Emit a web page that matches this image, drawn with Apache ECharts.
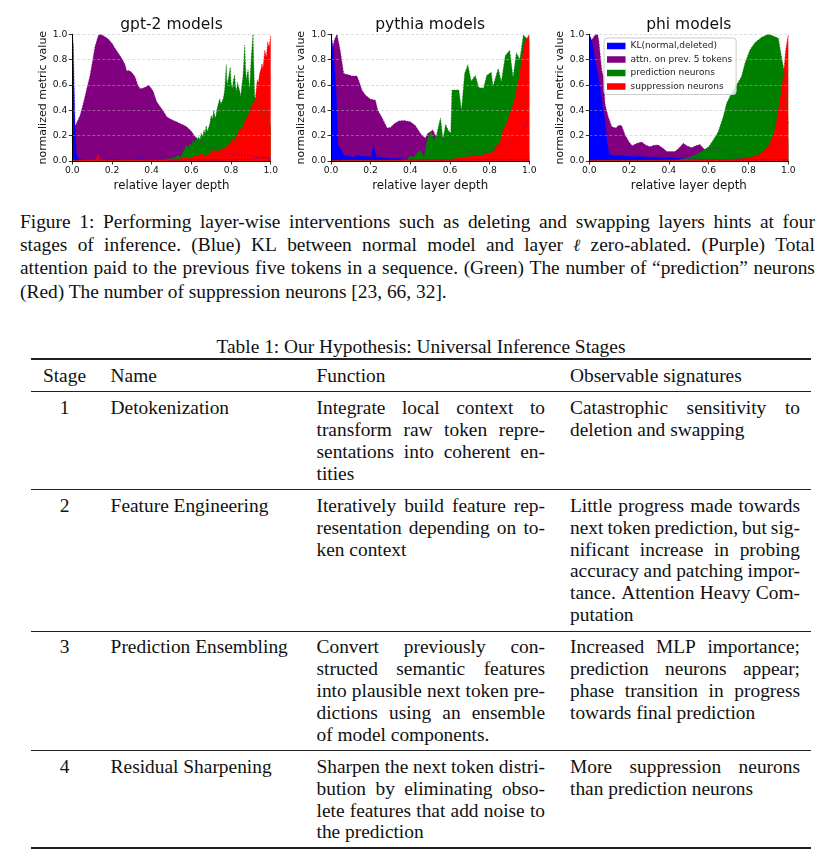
<!DOCTYPE html>
<html>
<head>
<meta charset="utf-8">
<script src="https://cdn.jsdelivr.net/npm/echarts@6/dist/echarts.min.js"></script>
<style>
  html, body { margin:0; padding:0; background:#fff; width:825px; height:864px; overflow:hidden; }
  #chart { position:absolute; left:0; top:0; width:825px; height:200px; }
  .ln { position:absolute; white-space:nowrap; font-family:'Liberation Serif','Times New Roman',serif; font-size:19.4px; color:#111; }
  .ell { font-family:'DejaVu Serif',serif; font-style:italic; font-size:17px; }
  .rule { position:absolute; background:#222; left:31px; width:780px; }
</style>
</head>
<body>
<div id="chart"></div>
<div id="txt"></div>
<script>
// ---------------- data ----------------
const modelTitles = ['gpt-2 models', 'pythia models', 'phi models'];
const seriesNames = ['KL(normal,deleted)', 'attn. on prev. 5 tokens', 'prediction neurons', 'suppression neurons'];
const xTickValues = [0, 0.2, 0.4, 0.6, 0.8, 1.0];

const gpt2KL = [[0,1.0],[0.005,0.92],[0.01,0.55],[0.015,0.22],[0.02,0.06],[0.03,0.02],[0.06,0.01],[0.1,0.012],[0.16,0.01],[0.2,0.015],[0.25,0.01],[0.3,0.012],[0.34,0.02],[0.36,0.008],[0.4,0.01],[0.45,0.015],[0.5,0.008],[0.6,0.01],[0.7,0.008],[0.8,0.01],[0.9,0.012],[0.95,0.03],[1.0,0.02]];
const gpt2Attn = [[0,0.26],[0.015,0.28],[0.022,0.30],[0.039,0.36],[0.05,0.42],[0.064,0.51],[0.076,0.59],[0.089,0.67],[0.1,0.77],[0.114,0.9],[0.131,0.99],[0.142,1.0],[0.152,0.995],[0.165,0.98],[0.18,0.965],[0.19,0.95],[0.2,0.93],[0.215,0.89],[0.232,0.85],[0.249,0.81],[0.266,0.76],[0.274,0.71],[0.285,0.715],[0.299,0.70],[0.316,0.665],[0.33,0.6],[0.341,0.57],[0.356,0.575],[0.37,0.585],[0.385,0.6],[0.392,0.59],[0.408,0.55],[0.425,0.47],[0.442,0.43],[0.46,0.39],[0.476,0.35],[0.49,0.335],[0.509,0.32],[0.525,0.31],[0.543,0.295],[0.56,0.285],[0.576,0.27],[0.59,0.25],[0.602,0.23],[0.615,0.2],[0.627,0.18],[0.645,0.16],[0.67,0.13],[0.7,0.1],[0.75,0.07],[0.8,0.05],[0.85,0.05],[0.9,0.04],[0.95,0.03],[1.0,0.02]];
const gpt2Pred = [[0,0.005],[0.1,0.01],[0.2,0.005],[0.3,0.012],[0.4,0.008],[0.45,0.01],[0.5,0.02],[0.52,0.03],[0.533,0.047],[0.545,0.03],[0.558,0.07],[0.567,0.06],[0.575,0.126],[0.584,0.10],[0.592,0.14],[0.6,0.12],[0.608,0.166],[0.616,0.14],[0.625,0.19],[0.63,0.16],[0.637,0.19],[0.644,0.17],[0.65,0.22],[0.657,0.19],[0.663,0.245],[0.669,0.22],[0.675,0.28],[0.681,0.23],[0.687,0.245],[0.694,0.3],[0.70,0.36],[0.706,0.33],[0.713,0.40],[0.718,0.36],[0.723,0.34],[0.728,0.40],[0.734,0.44],[0.743,0.49],[0.749,0.45],[0.755,0.47],[0.762,0.5],[0.768,0.56],[0.776,0.76],[0.78,0.6],[0.785,0.61],[0.79,0.68],[0.796,0.74],[0.8,0.62],[0.806,0.57],[0.812,0.64],[0.818,0.68],[0.822,0.6],[0.827,0.55],[0.833,0.62],[0.839,0.61],[0.844,0.55],[0.849,0.51],[0.855,0.6],[0.86,0.665],[0.865,0.8],[0.869,0.915],[0.873,0.75],[0.877,0.64],[0.881,0.68],[0.886,0.72],[0.89,0.63],[0.894,0.56],[0.898,0.7],[0.902,0.82],[0.907,0.92],[0.911,1.0],[0.915,0.75],[0.919,0.51],[0.928,0.48],[0.94,0.42],[0.95,0.38],[0.96,0.36],[0.97,0.4],[0.98,0.34],[0.99,0.3],[1.0,0.28]];
const gpt2Supp = [[0,0.005],[0.12,0.01],[0.13,0.05],[0.14,0.01],[0.3,0.005],[0.5,0.01],[0.55,0.02],[0.58,0.03],[0.6,0.02],[0.617,0.047],[0.63,0.035],[0.65,0.06],[0.67,0.04],[0.684,0.047],[0.7,0.07],[0.718,0.087],[0.735,0.07],[0.751,0.10],[0.765,0.09],[0.785,0.126],[0.797,0.14],[0.81,0.18],[0.818,0.16],[0.827,0.19],[0.835,0.22],[0.844,0.26],[0.852,0.24],[0.86,0.27],[0.868,0.31],[0.877,0.34],[0.886,0.36],[0.894,0.38],[0.902,0.43],[0.911,0.455],[0.922,0.48],[0.927,0.56],[0.932,0.64],[0.938,0.62],[0.944,0.69],[0.95,0.72],[0.956,0.77],[0.961,0.73],[0.966,0.745],[0.97,0.875],[0.978,0.82],[0.985,0.94],[0.992,0.9],[1.0,0.995]];

const pythiaKL = [[0,1.0],[0.005,0.955],[0.013,0.87],[0.02,0.7],[0.027,0.51],[0.035,0.126],[0.047,0.1],[0.063,0.05],[0.08,0.04],[0.097,0.035],[0.115,0.03],[0.131,0.05],[0.148,0.035],[0.165,0.04],[0.18,0.04],[0.2,0.03],[0.207,0.05],[0.212,0.126],[0.22,0.12],[0.23,0.03],[0.26,0.025],[0.3,0.02],[0.35,0.02],[0.4,0.01],[0.5,0.01],[0.6,0.008],[0.7,0.01],[0.8,0.01],[0.9,0.01],[1.0,0.01]];
const pythiaAttn = [[0,0.8],[0.005,0.87],[0.017,0.955],[0.03,1.0],[0.047,0.87],[0.064,0.69],[0.075,0.685],[0.089,0.68],[0.106,0.67],[0.131,0.67],[0.139,0.64],[0.156,0.56],[0.173,0.52],[0.198,0.49],[0.224,0.48],[0.236,0.40],[0.258,0.34],[0.283,0.26],[0.30,0.265],[0.316,0.29],[0.341,0.315],[0.367,0.32],[0.40,0.31],[0.425,0.28],[0.45,0.22],[0.475,0.18],[0.489,0.22],[0.514,0.245],[0.53,0.19],[0.556,0.19],[0.59,0.17],[0.624,0.15],[0.66,0.12],[0.69,0.087],[0.74,0.047],[0.79,0.075],[0.83,0.1],[0.875,0.126],[0.926,0.16],[0.968,0.245],[0.994,0.34],[1.0,0.34]];
const pythiaPred = [[0,0.005],[0.3,0.005],[0.38,0.01],[0.40,0.04],[0.42,0.03],[0.424,0.047],[0.45,0.087],[0.47,0.03],[0.484,0.16],[0.495,0.21],[0.508,0.235],[0.515,0.166],[0.53,0.19],[0.552,0.34],[0.565,0.17],[0.578,0.29],[0.59,0.245],[0.604,0.22],[0.61,0.56],[0.645,0.56],[0.658,0.40],[0.674,0.69],[0.69,0.76],[0.707,0.63],[0.728,0.675],[0.745,0.58],[0.77,0.575],[0.785,0.675],[0.808,0.70],[0.817,0.59],[0.843,0.73],[0.859,0.625],[0.879,0.83],[0.901,0.875],[0.918,0.66],[0.935,0.855],[0.952,0.80],[0.97,0.995],[0.985,0.97],[1.0,0.945]];
const pythiaSupp = [[0,0.005],[0.5,0.005],[0.6,0.01],[0.657,0.03],[0.7,0.035],[0.74,0.04],[0.77,0.05],[0.79,0.06],[0.818,0.07],[0.835,0.12],[0.852,0.14],[0.866,0.24],[0.886,0.3],[0.91,0.41],[0.928,0.5],[0.945,0.63],[0.961,0.79],[0.978,0.94],[1.0,1.0]];

const phiKL = [[0,1.0],[0.012,0.955],[0.028,0.81],[0.045,0.66],[0.054,0.59],[0.07,0.39],[0.079,0.32],[0.09,0.14],[0.1,0.055],[0.12,0.045],[0.18,0.04],[0.25,0.035],[0.31,0.03],[0.4,0.025],[0.48,0.02],[0.55,0.015],[0.6,0.012],[0.7,0.01],[0.8,0.01],[0.9,0.01],[1.0,0.01]];
const phiAttn = [[0,0.95],[0.012,0.955],[0.029,0.995],[0.042,1.0],[0.048,0.95],[0.062,0.72],[0.07,0.67],[0.079,0.45],[0.095,0.35],[0.113,0.27],[0.134,0.26],[0.146,0.28],[0.162,0.28],[0.18,0.205],[0.2,0.15],[0.216,0.12],[0.24,0.14],[0.263,0.15],[0.285,0.125],[0.305,0.113],[0.325,0.125],[0.347,0.126],[0.37,0.1],[0.39,0.074],[0.43,0.074],[0.45,0.1],[0.472,0.14],[0.49,0.12],[0.514,0.105],[0.535,0.12],[0.556,0.13],[0.58,0.09],[0.6,0.1],[0.653,0.1],[0.7,0.06],[0.737,0.02],[0.82,0.03],[0.905,0.1],[0.988,0.166],[1.0,0.17]];
const phiPred = [[0,0.005],[0.3,0.005],[0.45,0.01],[0.48,0.02],[0.514,0.034],[0.565,0.074],[0.6,0.113],[0.623,0.166],[0.648,0.23],[0.673,0.35],[0.69,0.455],[0.715,0.534],[0.74,0.6],[0.765,0.666],[0.782,0.77],[0.807,0.876],[0.832,0.934],[0.866,0.976],[0.9,1.0],[0.925,0.987],[0.95,0.968],[0.966,0.82],[0.98,0.705],[0.99,0.5],[1.0,0.3]];
const phiSupp = [[0,0.005],[0.5,0.005],[0.7,0.01],[0.78,0.02],[0.85,0.047],[0.883,0.087],[0.9,0.12],[0.916,0.166],[0.93,0.23],[0.94,0.3],[0.958,0.48],[0.975,0.666],[0.987,0.876],[1.0,1.0]];

const modelData = [
  [gpt2KL, gpt2Attn, gpt2Pred, gpt2Supp],
  [pythiaKL, pythiaAttn, pythiaPred, pythiaSupp],
  [phiKL, phiAttn, phiPred, phiSupp]
];

// ---------------- chart ----------------
const colors = ['#0000ff', '#800080', '#008000', '#ff0000'];
const drawOrder = [1, 0, 2, 3];
const gridBoxes = [
  {left: 72.3, top: 34.3, width: 198.4, height: 126.7},
  {left: 331, top: 34.3, width: 198.3, height: 126.7},
  {left: 589.3, top: 34.3, width: 199, height: 126.7}
];
const FONT = 'DejaVu Sans';

const grid = [], xAxis = [], yAxis = [], title = [], series = [];
gridBoxes.forEach((g, i) => {
  grid.push(Object.assign({containLabel: false}, g));
  title.push({
    text: modelTitles[i], left: g.left + g.width / 2, top: 16.5, textAlign: 'center', padding: 0,
    textStyle: {fontFamily: FONT, fontSize: 15.5, fontWeight: 'normal', color: '#111'}
  });
  xAxis.push({
    type: 'value', gridIndex: i, min: 0, max: 1, interval: 0.2, z: 4,
    name: 'relative layer depth', nameLocation: 'middle', nameGap: 18,
    nameTextStyle: {fontFamily: FONT, fontSize: 11.8, color: '#111'},
    axisLine: {show: true, lineStyle: {color: '#000', width: 1}},
    axisTick: {show: true, length: 3.5, lineStyle: {color: '#000', width: 0.8}},
    axisLabel: {margin: 5, fontFamily: FONT, fontSize: 9.2, color: '#111', formatter: v => v.toFixed(1)},
    splitLine: {show: false}
  });
  yAxis.push({
    type: 'value', gridIndex: i, min: 0, max: 1, interval: 0.2, z: 4,
    name: 'normalized metric value', nameLocation: 'middle', nameGap: 24,
    nameTextStyle: {fontFamily: FONT, fontSize: 11, color: '#111'},
    axisLine: {show: true, lineStyle: {color: '#000', width: 1}},
    axisTick: {show: true, length: 3.5, lineStyle: {color: '#000', width: 0.8}},
    axisLabel: {margin: 5, fontFamily: FONT, fontSize: 9.2, color: '#111', formatter: v => v.toFixed(1)},
    splitLine: {show: true, lineStyle: {color: 'rgba(185,185,185,0.6)', width: 0.8, type: [3, 2]}}
  });
  drawOrder.forEach(k => {
    series.push({
      type: 'line', name: seriesNames[k], xAxisIndex: i, yAxisIndex: i,
      data: modelData[i][k], symbol: 'none', showSymbol: false, silent: true, z: 2,
      lineStyle: {width: 0, color: colors[k]}, itemStyle: {color: colors[k]},
      areaStyle: {color: colors[k], opacity: 1}
    });
  });
  drawOrder.forEach(k => {
    series.push({
      type: 'line', name: 'edge' + i + '_' + k, xAxisIndex: i, yAxisIndex: i,
      data: modelData[i][k], symbol: 'none', showSymbol: false, silent: true, z: 3,
      lineStyle: {width: 0.9, color: colors[k], type: [1.5, 1.5], opacity: 0.7},
      itemStyle: {color: colors[k]}
    });
  });
});

const chart = echarts.init(document.getElementById('chart'), null, {renderer: 'canvas'});
chart.setOption({
  animation: false,
  backgroundColor: '#fff',
  textStyle: {fontFamily: FONT},
  title, grid, xAxis, yAxis, series,
  legend: {
    data: seriesNames, orient: 'vertical', left: 604, top: 38, icon: 'rect',
    itemWidth: 18.5, itemHeight: 6.5, itemGap: 3.5, padding: [3, 4, 3, 3],
    backgroundColor: 'rgba(255,255,255,0.82)', borderColor: '#cccccc', borderWidth: 1, borderRadius: 3,
    textStyle: {fontFamily: FONT, fontSize: 9, color: '#222', lineHeight: 10},
    itemStyle: {borderWidth: 0}, selectedMode: false, z: 10
  }
});

// ---------------- caption & table text ----------------
const caption = [
  ['Figure 1: Performing layer-wise interventions such as deleting and swapping layers hints at four', true],
  ['stages of inference.  (Blue) KL between normal model and layer ℓ zero-ablated.  (Purple) Total', true],
  ['attention paid to the previous five tokens in a sequence. (Green) The number of “prediction” neurons', true],
  ['(Red) The number of suppression neurons [23, 66, 32].', false]
];
const tableTitle = 'Table 1: Our Hypothesis: Universal Inference Stages';
const tableHeader = ['Stage', 'Name', 'Function', 'Observable signatures'];
const tableRows = [
  {stage: '1', name: 'Detokenization', cy: 408.3,
   func: ['Integrate local context to', 'transform raw token repre-', 'sentations into coherent en-', 'tities'],
   obs: ['Catastrophic sensitivity to', 'deletion and swapping']},
  {stage: '2', name: 'Feature Engineering', cy: 505.7,
   func: ['Iteratively build feature rep-', 'resentation depending on to-', 'ken context'],
   obs: ['Little progress made towards', 'next token prediction, but sig-', 'nificant increase in probing', 'accuracy and patching impor-', 'tance.  Attention Heavy Com-', 'putation']},
  {stage: '3', name: 'Prediction Ensembling', cy: 647.3,
   func: ['Convert previously con-', 'structed semantic features', 'into plausible next token pre-', 'dictions using an ensemble', 'of model components.'],
   obs: ['Increased MLP importance;', 'prediction neurons appear;', 'phase transition in progress', 'towards final prediction']},
  {stage: '4', name: 'Residual Sharpening', cy: 766.7,
   func: ['Sharpen the next token distri-', 'bution by eliminating obso-', 'lete features that add noise to', 'the prediction'],
   obs: ['More suppression neurons', 'than prediction neurons']}
];

const host = document.getElementById('txt');
function addWord(parent, wd) {
  const s = document.createElement('span');
  if (wd === 'ℓ') s.className = 'ell';
  s.textContent = wd;
  parent.appendChild(s);
}
function place(txt, x, cy, w, lh, just, align) {
  const d = document.createElement('div');
  d.className = 'ln';
  d.style.left = x + 'px';
  d.style.top = (cy - lh / 2) + 'px';
  d.style.height = lh + 'px';
  d.style.lineHeight = lh + 'px';
  if (w) d.style.width = w + 'px';
  if (just) {
    d.style.display = 'flex';
    d.style.justifyContent = 'space-between';
    d.style.alignItems = 'baseline';
    txt.split(/\s+/).forEach(wd => addWord(d, wd));
  } else {
    d.textContent = txt;
    if (align) d.style.textAlign = align;
  }
  host.appendChild(d);
}
function rule(y, h) {
  const r = document.createElement('div');
  r.className = 'rule';
  r.style.top = y + 'px';
  r.style.height = h + 'px';
  host.appendChild(r);
}

caption.forEach((c, i) => place(c[0], 20, 221.7 + i * 23.33, 795, 24, c[1]));
place(tableTitle, 21, 346.7, 800, 22, false, 'center');
rule(358.4, 1.8);
place(tableHeader[0], 34, 376, 61, 22, false, 'center');
place(tableHeader[1], 110.6, 376, 0, 22, false);
place(tableHeader[2], 316.5, 376, 0, 22, false);
place(tableHeader[3], 570, 376, 0, 22, false);
rule(391.2, 1.1);
const STEP = 21.9;
tableRows.forEach(r => {
  place(r.stage, 34, r.cy, 61, 22, false, 'center');
  place(r.name, 110.6, r.cy, 0, 22, false);
  r.func.forEach((t, j) => place(t, 316.5, r.cy + j * STEP, 228.5, 22, j < r.func.length - 1));
  r.obs.forEach((t, j) => place(t, 570, r.cy + j * STEP, 230, 22, j < r.obs.length - 1));
});
rule(488.8, 1.1);
rule(631.2, 1.1);
rule(749.5, 1.1);
rule(847.4, 1.8);
</script>
</body>
</html>
